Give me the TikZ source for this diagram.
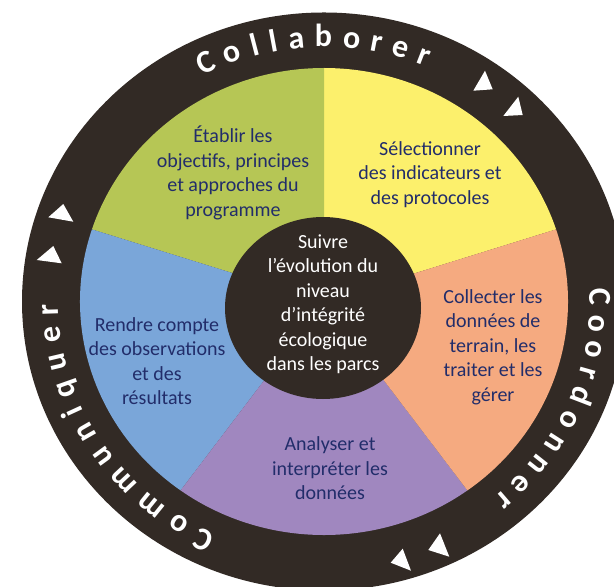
\documentclass[tikz,border=0pt]{standalone}
\usepackage{fontspec}
\setmainfont{Carlito}
\definecolor{ringdark}{HTML}{322A25}
\definecolor{secgreen}{HTML}{B6C655}
\definecolor{secyellow}{HTML}{FCF06C}
\definecolor{secorange}{HTML}{F5AA80}
\definecolor{secpurple}{HTML}{A087BF}
\definecolor{secblue}{HTML}{7AA6D9}
\definecolor{txtnavy}{HTML}{222D6A}
\begin{document}
\begin{tikzpicture}[x=1pt,y=-1pt,
  sectxt/.style={text=txtnavy, align=center, font=\fontsize{20}{24.5}\selectfont, inner sep=0pt},
  centxt/.style={text=white, align=center, font=\fontsize{20}{24.5}\selectfont, inner sep=0pt},
  ringtxt/.style={text=white, font=\fontsize{32}{34}\selectfont\bfseries, anchor=base, inner sep=0pt},
  tri/.style={fill=white}]
\useasboundingbox (0,0) rectangle (614,587);
\clip (0,0) rectangle (614,587);
\fill[white] (0,0) rectangle (614,587);
\begin{scope}[shift={(324,301.5)}, yscale=-0.957]
  \fill[ringdark] (0,0) circle[radius=302];
  \fill[secyellow] (0,0) -- (18:244) arc[start angle=18,end angle=90,radius=244] -- cycle;
  \fill[secgreen] (0,0) -- (90:244) arc[start angle=90,end angle=162,radius=244] -- cycle;
  \fill[secblue] (0,0) -- (162:244) arc[start angle=162,end angle=234,radius=244] -- cycle;
  \fill[secpurple] (0,0) -- (234:244) arc[start angle=234,end angle=306,radius=244] -- cycle;
  \fill[secorange] (0,0) -- (306:244) arc[start angle=306,end angle=378,radius=244] -- cycle;
  \foreach \a/\l [count=\i] in {115.4/C,109.6/o,104.6/l,100.6/l,95.8/a,90.1/b,84.2/o,79.0/r,73.8/e,68.6/r}
    \node[ringtxt, rotate=\a-90] (coll\i) at (\a:266) {\l};
  \foreach \a/\l [count=\i] in {1.0/C,-4.8/o,-10.6/o,-15.8/r,-21.0/d,-26.8/o,-32.6/n,-38.4/n,-44.1/e,-49.2/r}
    \node[ringtxt, rotate=\a-90] (coord\i) at (\a:266) {\l};
  \foreach \a/\l [count=\i] in {244.1/C,238.0/o,231.0/m,223.1/m,216.1/u,209.9/n,204.7/i,199.5/q,193.3/u,187.3/e,181.8/r}
    \node[ringtxt, rotate=\a-90] (comm\i) at (\a:266) {\l};
\end{scope}
% arrow triangles
\fill[tri] (473.3,90.7) -- (485,70.7) -- (492.7,89.3) -- cycle;
\fill[tri] (503.3,116) -- (518.3,96.7) -- (522.7,115) -- cycle;
\fill[tri] (48.3,217.3) -- (63.3,204) -- (73.3,221.7) -- cycle;
\fill[tri] (36.7,260) -- (53.3,246) -- (61.7,263.3) -- cycle;
\fill[tri] (390.7,562.7) -- (402.7,548.7) -- (411,570.7) -- cycle;
\fill[tri] (428.3,550) -- (440,533.3) -- (449.3,556.7) -- cycle;
% centre
\fill[ringdark] (323,308) ellipse[x radius=98, y radius=91];
\node[centxt] (centre) at (323,304) {Suivre\\l’évolution du\\niveau\\d’intégrité\\écologique\\dans les parcs};
% sector texts
\node[sectxt] (green) at (233,173) {Établir les\\objectifs, principes\\et approches du\\programme};
\node[sectxt] (yellow) at (430,174.5) {Sélectionner\\des indicateurs et\\des protocoles};
\node[sectxt] (orange) at (493,347) {Collecter les\\données de\\terrain, les\\traiter et les\\gérer};
\node[sectxt] (purple) at (330,468.5) {Analyser et\\interpréter les\\données};
\node[sectxt] (blue) at (157,361) {Rendre compte\\des observations\\et des\\résultats};
\end{tikzpicture}
\end{document}
